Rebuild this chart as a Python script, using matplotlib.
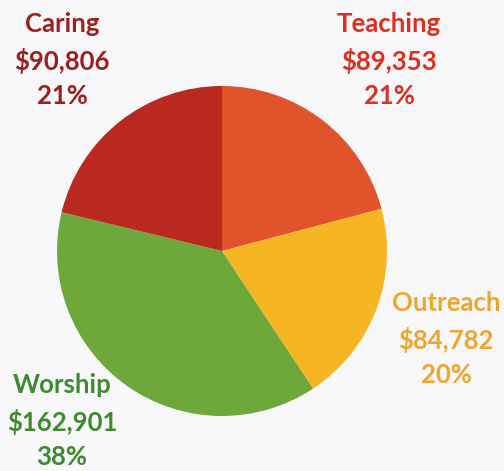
import matplotlib
matplotlib.use("Agg")
import matplotlib.pyplot as plt

categories = ["Teaching", "Outreach", "Worship", "Caring"]
amounts = [89353, 84782, 162901, 90806]
pct_labels = ["21%", "20%", "38%", "21%"]
slice_colors = ["#E1532B", "#F6B522", "#6FA83A", "#B9291F"]
text_colors = ["#DE2E1E", "#F0A52C", "#3E8B2E", "#A01D1D"]

W, H = 504, 471
fig = plt.figure(figsize=(W / 100, H / 100), dpi=100)
fig.patch.set_facecolor("#F8F8FA")
ax = fig.add_axes([0, 0, 1, 1])
ax.set_facecolor("#F8F8FA")

cx, cy, r = 222, H - 251, 165
ax.pie(amounts, colors=slice_colors, startangle=90, counterclock=False,
       center=(cx, cy), radius=r, frame=True,
       wedgeprops=dict(linewidth=0))
ax.set_xlim(0, W)
ax.set_ylim(0, H)
ax.set_aspect("equal")
ax.axis("off")

label_pos = {"Teaching": (389, 60), "Outreach": (446, 339),
             "Worship": (62, 421), "Caring": (62, 60)}
for cat, amt, pct, tc in zip(categories, amounts, pct_labels, text_colors):
    x, y = label_pos[cat]
    ax.text(x, H - y, f"{cat}\n${amt:,}\n{pct}", ha="center", va="center",
            color=tc, fontsize=18.5, fontweight="bold", family="Lato",
            linespacing=1.52)

fig.savefig("out.png", dpi=100, facecolor=fig.get_facecolor())
